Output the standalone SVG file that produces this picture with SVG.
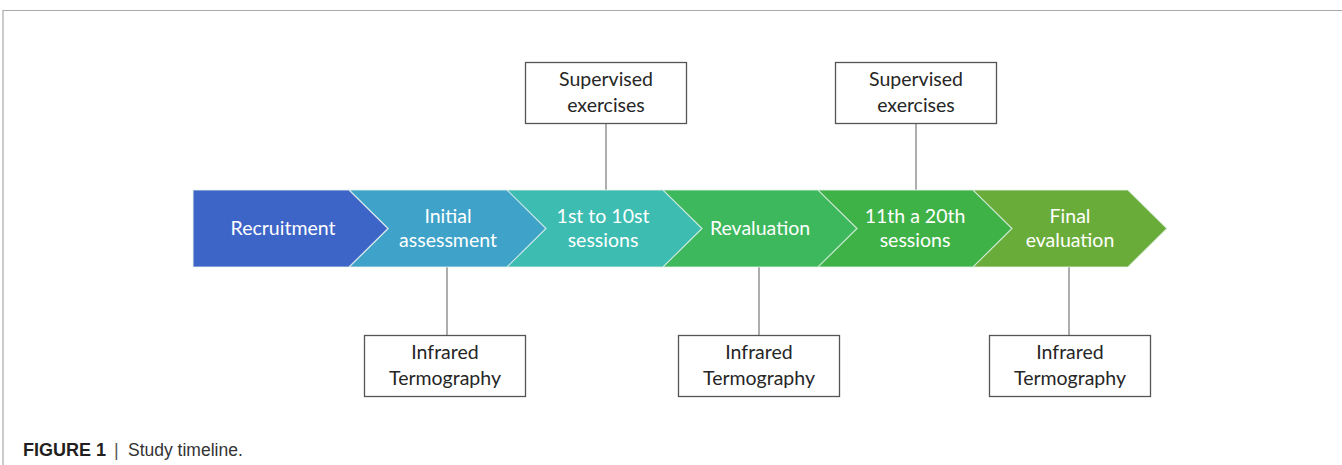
<svg xmlns="http://www.w3.org/2000/svg" width="1342" height="465" viewBox="0 0 1342 465">
<style>
.chev{stroke:#e8f4ee;stroke-width:1.2;stroke-opacity:0.8}
.ct{font-family:Lato,"Open Sans",sans-serif;font-size:19.5px;fill:#ffffff;text-anchor:middle}
.box{fill:#ffffff;stroke:#555555;stroke-width:1.3}
.bt{font-family:Lato,"Open Sans",sans-serif;font-size:19.5px;fill:#262626;text-anchor:middle}
.conn{stroke:#777777;stroke-width:1.2;fill:none}
</style>
<rect x="0" y="0" width="1342" height="465" fill="#ffffff"/>
<path d="M3 465 V10.5 H1342" fill="none" stroke="#aaaaaa" stroke-width="1.2"/>
<g id="connectors">
<line class="conn" x1="606" y1="123" x2="606" y2="190"/>
<line class="conn" x1="916" y1="123" x2="916" y2="190"/>
<line class="conn" x1="447" y1="267" x2="447" y2="335"/>
<line class="conn" x1="759" y1="267" x2="759" y2="335"/>
<line class="conn" x1="1069" y1="267" x2="1069" y2="335"/>
</g>
<g id="final">
<path class="chev" d="M972 190 H1128 L1167 228.5 L1128 267 H972 L1011 228.5 Z" fill="#6aac3a"/>
<text class="ct" x="1070" y="223">Final</text>
<text class="ct" x="1070" y="247">evaluation</text>
</g>
<g id="sessions2">
<path class="chev" d="M817 190 H973 L1012 228.5 L973 267 H817 L856 228.5 Z" fill="#3fb247"/>
<text class="ct" x="915" y="223">11th a 20th</text>
<text class="ct" x="915" y="247">sessions</text>
</g>
<g id="revaluation">
<path class="chev" d="M662 190 H818 L857 228.5 L818 267 H662 L701 228.5 Z" fill="#3db85d"/>
<text class="ct" x="760" y="235">Revaluation</text>
</g>
<g id="sessions1">
<path class="chev" d="M506 190 H663 L702 228.5 L663 267 H506 L545 228.5 Z" fill="#3dbcb1"/>
<text class="ct" x="603" y="223">1st to 10st</text>
<text class="ct" x="603" y="247">sessions</text>
</g>
<g id="initial">
<path class="chev" d="M349 190 H507 L546 228.5 L507 267 H349 L388 228.5 Z" fill="#3fa3c9"/>
<text class="ct" x="448" y="223">Initial</text>
<text class="ct" x="448" y="247">assessment</text>
</g>
<g id="recruitment">
<path class="chev" d="M193 190 H349 L388 228.5 L349 267 H193 Z" fill="#3d65c8"/>
<text class="ct" x="283" y="235">Recruitment</text>
</g>
<g id="supervised1">
<rect class="box" x="525.5" y="62.5" width="161" height="61"/>
<text class="bt" x="606" y="86">Supervised</text>
<text class="bt" x="606" y="112">exercises</text>
</g>
<g id="supervised2">
<rect class="box" x="835.5" y="62.5" width="161" height="61"/>
<text class="bt" x="916" y="86">Supervised</text>
<text class="bt" x="916" y="112">exercises</text>
</g>
<g id="infrared1">
<rect class="box" x="364.5" y="335.5" width="161" height="61"/>
<text class="bt" x="445" y="359">Infrared</text>
<text class="bt" x="445" y="385">Termography</text>
</g>
<g id="infrared2">
<rect class="box" x="678.5" y="335.5" width="161" height="61"/>
<text class="bt" x="759" y="359">Infrared</text>
<text class="bt" x="759" y="385">Termography</text>
</g>
<g id="infrared3">
<rect class="box" x="989.5" y="335.5" width="161" height="61"/>
<text class="bt" x="1070" y="359">Infrared</text>
<text class="bt" x="1070" y="385">Termography</text>
</g>
<g id="caption">
<text x="23" y="456" font-family="'Liberation Sans',Arial,sans-serif" font-size="18" font-weight="bold" fill="#231f20">FIGURE 1</text>
<text x="114" y="456" font-family="'Liberation Sans',Arial,sans-serif" font-size="18" fill="#555555">|</text>
<text x="128" y="456" font-family="'Liberation Sans',Arial,sans-serif" font-size="17.5" fill="#333333">Study timeline.</text>
</g>
</svg>
